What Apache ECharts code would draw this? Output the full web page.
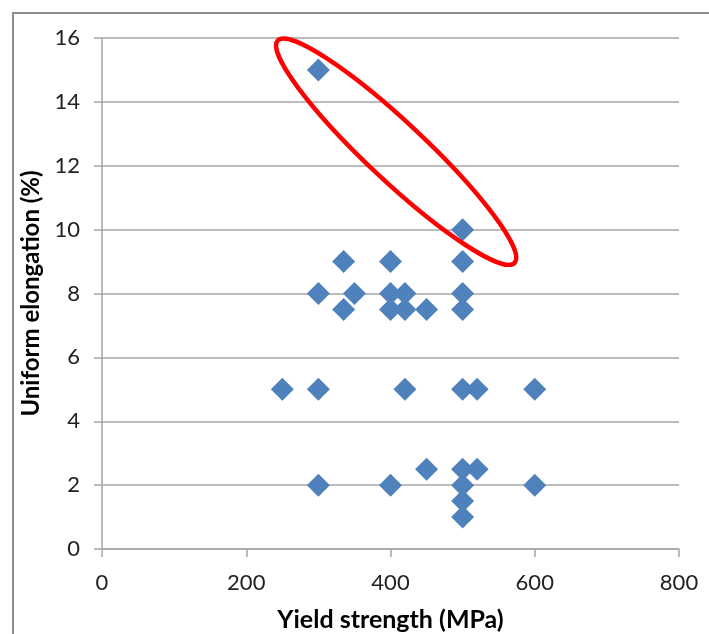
<!DOCTYPE html>
<html>
<head>
<meta charset="utf-8">
<script src="https://cdn.jsdelivr.net/npm/echarts@6/dist/echarts.min.js"></script>
<style>
  html, body { margin: 0; padding: 0; background: #fff; }
  #chart { width: 709px; height: 634px; }
</style>
</head>
<body>
<div id="chart"></div>
<script>
// yield strength (MPa) and uniform elongation (%) of each sample
const yieldStrength = [300, 500, 335, 400, 500, 300, 350, 400, 420, 500,
  335, 400, 420, 450, 500, 250, 300, 420, 500, 520, 600,
  450, 500, 520, 300, 400, 500, 600, 500, 500]
const elongation = [15, 10, 9, 9, 9, 8, 8, 8, 8, 8,
  7.5, 7.5, 7.5, 7.5, 7.5, 5, 5, 5, 5, 5, 5,
  2.5, 2.5, 2.5, 2, 2, 2, 2, 1.5, 1]

// ends of the red highlight ellipse, in data units
const ellipseEnds = [[243.6, 15.92], [572.1, 8.96]]

const labelFont = 'Lato, "Open Sans", sans-serif'
const gridColor = '#a6a6a6'

const chart = echarts.init(document.getElementById('chart'))

chart.setOption({
  animation: false,
  grid: {
    left: 102,
    right: 30,
    top: 38,
    bottom: 85,
    containLabel: false,
    outerBoundsMode: 'none'
  },
  xAxis: {
    type: 'value',
    min: 0,
    max: 800,
    interval: 200,
    name: 'Yield strength (MPa)',
    nameLocation: 'middle',
    nameGap: 58,
    nameTextStyle: {
      color: '#000',
      fontFamily: labelFont,
      fontWeight: 'bold',
      fontSize: 25
    },
    axisLine: { show: true, lineStyle: { color: gridColor, width: 1.5 } },
    axisTick: { show: true, length: 8, lineStyle: { color: gridColor, width: 1.5 } },
    axisLabel: {
      color: '#222',
      fontFamily: labelFont,
      fontSize: 22,
      margin: 23
    },
    splitLine: { show: false }
  },
  yAxis: {
    type: 'value',
    min: 0,
    max: 16,
    interval: 2,
    name: 'Uniform elongation (%)',
    nameLocation: 'middle',
    nameGap: 57,
    nameTextStyle: {
      color: '#000',
      fontFamily: labelFont,
      fontWeight: 'bold',
      fontSize: 24
    },
    axisLine: { show: true, lineStyle: { color: gridColor, width: 1.5 } },
    axisTick: { show: true, length: 8, lineStyle: { color: gridColor, width: 1.5 } },
    axisLabel: {
      color: '#222',
      fontFamily: labelFont,
      fontSize: 22,
      margin: 22
    },
    splitLine: { show: true, lineStyle: { color: gridColor, width: 1.5 } }
  },
  series: [{
    type: 'scatter',
    symbol: 'diamond',
    symbolSize: 23,
    itemStyle: { color: '#4f81bd', opacity: 1 },
    data: yieldStrength.map((x, i) => [x, elongation[i]])
  }]
})

// red ellipse around the two outliers, placed through the axes
const p1 = chart.convertToPixel({ gridIndex: 0 }, ellipseEnds[0])
const p2 = chart.convertToPixel({ gridIndex: 0 }, ellipseEnds[1])
const dx = p2[0] - p1[0]
const dy = p2[1] - p1[1]

chart.setOption({
  graphic: [
    {
      type: 'rect',
      z: 0,
      silent: true,
      shape: { x: 13, y: 13, width: 720, height: 700 },
      style: { fill: null, stroke: '#8c8c8c', lineWidth: 2 }
    },
    {
      type: 'ellipse',
      z: 100,
      silent: true,
      x: (p1[0] + p2[0]) / 2,
      y: (p1[1] + p2[1]) / 2,
      rotation: -Math.atan2(dy, dx),
      shape: { cx: 0, cy: 0, rx: Math.sqrt(dx * dx + dy * dy) / 2, ry: 29 },
      style: { fill: null, stroke: '#ff0000', lineWidth: 4.5 }
    }
  ]
})
</script>
</body>
</html>
